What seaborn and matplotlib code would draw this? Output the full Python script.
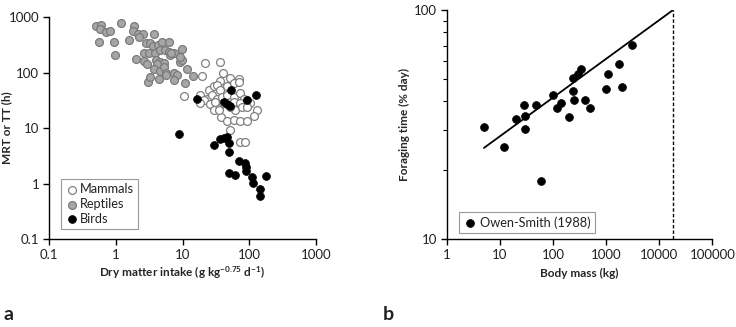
import numpy as np
import pandas as pd
import matplotlib
matplotlib.use("Agg")
import matplotlib.pyplot as plt
import matplotlib.ticker as mticker
import seaborn as sns

# panel a: dry matter intake (g kg-0.75 d-1) vs MRT or TT (h)
reptile_dmi = [0.50, 0.60, 0.58, 0.72, 0.82, 0.56, 0.94, 0.97, 1.2, 1.6, 1.86, 1.84,
               2.16, 2.54, 2.26, 3.76, 2.82, 3.27, 3.59, 4.22, 4.90, 6.17, 2.66, 3.16,
               3.89, 4.62, 5.50, 6.17, 2.0, 2.66, 2.92, 3.98, 4.62, 5.31, 6.53, 7.33,
               9.9, 9.2, 9.7, 4.17, 3.80, 4.52, 5.19, 5.69, 7.33, 8.22, 11.5, 14.3,
               11.0, 2.99, 3.27, 4.37, 7.50, 5.62, 9.2, 6.68]
reptile_mrt = [688, 728, 600, 529, 560, 359, 359, 209, 780, 391, 698, 560,
               488, 488, 431, 488, 336, 336, 304, 308, 355, 350, 221, 221,
               221, 254, 254, 237, 175, 163, 140, 168, 157, 146, 207, 221,
               261, 157, 168, 142, 116, 108, 127, 97, 97, 90, 114, 86,
               64, 68, 82, 77, 73, 90, 193, 221]

mammal_dmi = [21.9, 36.7, 40.3, 19.5, 36.7, 51.9, 70, 10.7, 24.5, 29.2, 32.7, 36.7,
              46.2, 58.2, 69.2, 18.0, 23.2, 27.5, 32.7, 38.9, 46.2, 58.2, 73.3, 82.2,
              20.7, 25.4, 34.7, 40.3, 58.2, 73.3, 92.3, 103.5, 130, 116, 37.6, 46.2,
              58.2, 73.3, 92.3, 51.9, 71.6, 85.1, 18.4, 29.2, 34.7, 30.9, 61.7, 77.6,
              51.9, 92.3]
mammal_mrt = [146, 155, 99, 86, 71, 79, 77, 38, 48, 56, 60, 48,
              56, 64, 68, 39, 34, 39, 34, 36.7, 39, 36.7, 42, 34,
              32, 27, 24.2, 27.8, 29.8, 27.8, 32, 27.8, 21.1, 16.4, 16.0, 13.5,
              13.9, 13.5, 13.5, 9.2, 5.5, 5.5, 27.8, 21.1, 21.1, 29.8, 21.1, 24.2,
              24.2, 24.2]

bird_dmi = [16.4, 53.7, 92.3, 124, 41.2, 46.2, 51.9, 8.9, 29.5, 36.7, 41.2, 46.2,
            49.0, 49.5, 70, 85, 90, 49.5, 61.7, 90, 110, 114, 146, 146, 178]
bird_mrt = [32.9, 48, 32, 40, 29.8, 27.0, 24.9, 7.7, 4.9, 6.3, 6.6, 7.0,
            5.3, 3.75, 2.58, 2.31, 2.0, 1.57, 1.42, 1.70, 1.33, 1.03, 0.79, 0.60, 1.36]

# panel b: body mass (kg) vs foraging time (% day), Owen-Smith (1988)
body_mass = [5.0, 12.2, 19.7, 28.6, 30.3, 30.3, 48.8, 99, 120, 140, 204, 238,
             241, 245, 299, 341, 398, 497, 1000, 1073, 1762, 1979, 3000, 60.6]
forage_time = [31, 25.3, 33.4, 38.5, 34.4, 30.3, 38.4, 42.6, 37.4, 39.3, 34.3, 50.5,
               44.5, 40.4, 52.5, 55.2, 40.4, 37.4, 45.3, 52.5, 58.3, 46.3, 70.5, 18.0]
fit_mass = [5, 18000]
fit_time = [25, 100]
limit_mass = [18000, 18000]
limit_time = [10, 100]

sns.set_style("ticks")
plt.rcParams["font.family"] = ["Lato", "DejaVu Sans"]
plt.rcParams["font.size"] = 8.5
plt.rcParams["text.color"] = "#222222"
plt.rcParams["mathtext.default"] = "regular"

fig = plt.figure(figsize=(7.36, 3.27), dpi=100)
ax1 = fig.add_axes([0.0666, 0.269, 0.3628, 0.679])
ax2 = fig.add_axes([0.607, 0.269, 0.361, 0.700])

ms = 32
sns.scatterplot(x=mammal_dmi, y=mammal_mrt, ax=ax1, s=ms, color="white",
                edgecolor="#808080", linewidth=0.9, label="Mammals", zorder=3)
sns.scatterplot(x=reptile_dmi, y=reptile_mrt, ax=ax1, s=ms, color="#a6a6a6",
                edgecolor="#7a7a7a", linewidth=0.9, label="Reptiles", zorder=3)
sns.scatterplot(x=bird_dmi, y=bird_mrt, ax=ax1, s=ms, color="black",
                edgecolor="black", linewidth=0.5, label="Birds", zorder=4)

ax1.set_xscale("log")
ax1.set_yscale("log")
ax1.set_xlim(0.1, 1000)
ax1.set_ylim(0.1, 1000)
fmt = mticker.FuncFormatter(lambda v, p: f"{v:g}")
ax1.xaxis.set_major_locator(mticker.LogLocator(base=10, numticks=10))
ax1.yaxis.set_major_locator(mticker.LogLocator(base=10, numticks=10))
ax1.xaxis.set_minor_locator(mticker.NullLocator())
ax1.yaxis.set_minor_locator(mticker.NullLocator())
ax1.xaxis.set_major_formatter(fmt)
ax1.yaxis.set_major_formatter(fmt)
ax1.set_xlabel("Dry matter intake (g kg$^{-0.75}$ d$^{-1}$)", fontweight="bold", labelpad=3)
ax1.set_ylabel("MRT or TT (h)", fontweight="bold")
ax1.yaxis.set_label_coords(-0.138, 0.5)
leg1 = ax1.legend(loc="lower left", bbox_to_anchor=(0.045, 0.045), borderaxespad=0,
                  fancybox=False, edgecolor="#808080", handletextpad=0.1,
                  borderpad=0.35, handlelength=1.0, labelspacing=0.2, fontsize=9.2)
leg1.get_frame().set_linewidth(0.8)

sns.scatterplot(x=body_mass, y=forage_time, ax=ax2, s=ms, color="black",
                edgecolor="black", linewidth=0.5, label="Owen-Smith (1988)", zorder=4)
sns.lineplot(x=fit_mass, y=fit_time, ax=ax2, color="black", linewidth=1.3,
             legend=False)
ax2.plot(limit_mass, limit_time, color="black", linewidth=1.0,
         linestyle=(0, (2.5, 1.5)))
ax2.set_xscale("log")
ax2.set_yscale("log")
ax2.set_xlim(1, 100000)
ax2.set_ylim(10, 100)
ax2.xaxis.set_major_locator(mticker.LogLocator(base=10, numticks=10))
ax2.xaxis.set_minor_locator(mticker.NullLocator())
ax2.yaxis.set_major_locator(mticker.FixedLocator([10, 100]))
ax2.yaxis.set_minor_locator(mticker.FixedLocator([20, 30, 40, 50, 60, 70, 80, 90]))
ax2.yaxis.set_minor_formatter(mticker.NullFormatter())
ax2.xaxis.set_major_formatter(fmt)
ax2.yaxis.set_major_formatter(fmt)
ax2.set_xlabel("Body mass (kg)", fontweight="bold", labelpad=5)
ax2.set_ylabel("Foraging time (% day)", fontweight="bold", labelpad=3)
leg2 = ax2.legend(loc="lower left", bbox_to_anchor=(0.045, 0.026), borderaxespad=0,
                  fancybox=False, edgecolor="#808080", handletextpad=0.3,
                  borderpad=0.35, handlelength=1.0, fontsize=9.2)
leg2.get_frame().set_linewidth(0.8)

for ax in (ax1, ax2):
    sns.despine(ax=ax)
    for sp in ("left", "bottom"):
        ax.spines[sp].set_linewidth(1.0)
        ax.spines[sp].set_color("black")
    ax.tick_params(which="major", length=4, width=1.0, color="black", labelsize=9.5,
                   labelcolor="#222222", pad=3)
    ax.tick_params(which="minor", length=3, width=0.8, color="black")

fig.text(0.005, 0.02, "a", fontsize=14, fontweight="bold")
fig.text(0.52, 0.02, "b", fontsize=14, fontweight="bold")

fig.savefig("out.png", dpi=100)
